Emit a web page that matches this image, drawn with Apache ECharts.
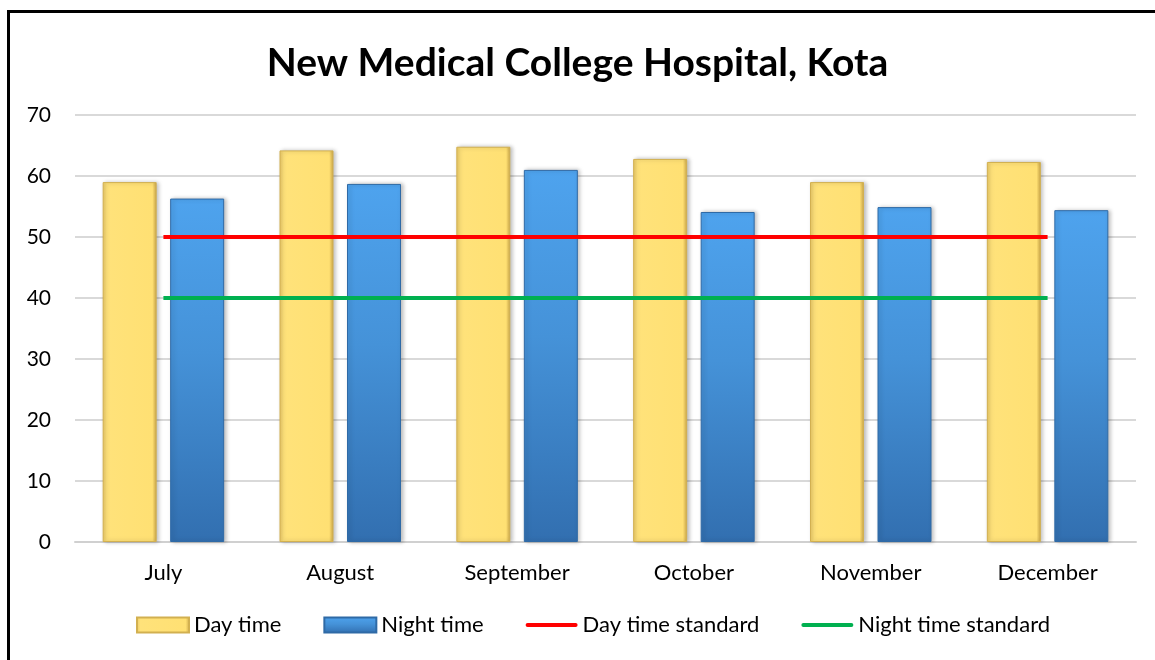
<!DOCTYPE html>
<html>
<head>
<meta charset="utf-8">
<script src="https://cdn.jsdelivr.net/npm/echarts@6/dist/echarts.min.js"></script>
<style>
  html, body { margin: 0; padding: 0; background: #fff; }
  #chart { width: 1155px; height: 660px; }
  .frame {
    position: absolute; left: 7px; top: 10px; width: 1200px; height: 700px;
    border-left: 3px solid #000; border-top: 3px solid #000; pointer-events: none;
  }
</style>
</head>
<body>
<div id="chart"></div>
<div class="frame"></div>
<script>
const months = ['July', 'August', 'September', 'October', 'November', 'December']
const dayTime = [59, 64.2, 64.8, 62.8, 59, 62.3]
const nightTime = [56.3, 58.7, 61, 54.1, 54.9, 54.4]
const dayStandard = [50, 50, 50, 50, 50, 50]
const nightStandard = [40, 40, 40, 40, 40, 40]

const FONT = 'Lato, "Open Sans", sans-serif'
const LINE_ICON = 'path://M2,0 L50,0 A2,2 0 0 1 50,4 L2,4 A2,2 0 0 1 2,0 Z'

const yellowFill = new echarts.graphic.LinearGradient(0, 0, 1, 0, [
  { offset: 0, color: '#e8c766' },
  { offset: 0.08, color: '#ffe27a' },
  { offset: 0.92, color: '#ffe073' },
  { offset: 1, color: '#c9a447' }
])
const blueFill = new echarts.graphic.LinearGradient(0, 0, 0, 1, [
  { offset: 0, color: '#4ea3ee' },
  { offset: 0.45, color: '#4592d8' },
  { offset: 1, color: '#326fb0' }
])

const chart = echarts.init(document.getElementById('chart'))
chart.setOption({
  animation: false,
  textStyle: { fontFamily: FONT },
  title: {
    text: 'New Medical College Hospital, Kota',
    left: 'center',
    top: 39,
    textStyle: { fontFamily: FONT, fontSize: 39, fontWeight: 'bold', color: '#000' }
  },
  legend: {
    bottom: 19,
    left: 131,
    itemWidth: 52,
    itemHeight: 15,
    itemGap: 42,
    textStyle: { fontFamily: FONT, fontSize: 22, color: '#000' },
    data: [
      { name: 'Day time', icon: 'rect' },
      { name: 'Night time', icon: 'rect' },
      { name: 'Day time standard', icon: LINE_ICON },
      { name: 'Night time standard', icon: LINE_ICON }
    ]
  },
  grid: { left: 75, right: 19, top: 115, bottom: 118 },
  xAxis: {
    type: 'category',
    data: months,
    axisTick: { show: false },
    axisLine: { lineStyle: { color: '#d0d0d0', width: 2 } },
    axisLabel: { color: '#000', fontSize: 22, margin: 20 }
  },
  yAxis: {
    type: 'value',
    min: 0,
    max: 70,
    interval: 10,
    axisLine: { show: false },
    axisTick: { show: false },
    splitLine: { lineStyle: { color: '#d9d9d9', width: 2 } },
    axisLabel: { color: '#000', fontSize: 21, margin: 24 }
  },
  series: [
    {
      name: 'Day time',
      type: 'bar',
      data: dayTime,
      barWidth: 54,
      barGap: '25%',
      itemStyle: {
        color: yellowFill,
        borderColor: '#d2b050',
        borderWidth: 1,
        shadowColor: 'rgba(0,0,0,0.25)',
        shadowBlur: 4,
        shadowOffsetX: 2
      }
    },
    {
      name: 'Night time',
      type: 'bar',
      data: nightTime,
      barWidth: 54,
      itemStyle: {
        color: blueFill,
        borderColor: '#2f6aa6',
        borderWidth: 1,
        shadowColor: 'rgba(0,0,0,0.25)',
        shadowBlur: 4,
        shadowOffsetX: 2
      }
    },
    {
      name: 'Day time standard',
      type: 'line',
      data: dayStandard,
      symbol: 'none',
      itemStyle: { color: '#ff0000' },
      lineStyle: { color: '#ff0000', width: 4 }
    },
    {
      name: 'Night time standard',
      type: 'line',
      data: nightStandard,
      symbol: 'none',
      itemStyle: { color: '#00b050' },
      lineStyle: { color: '#00b050', width: 4 }
    }
  ]
})
</script>
</body>
</html>
